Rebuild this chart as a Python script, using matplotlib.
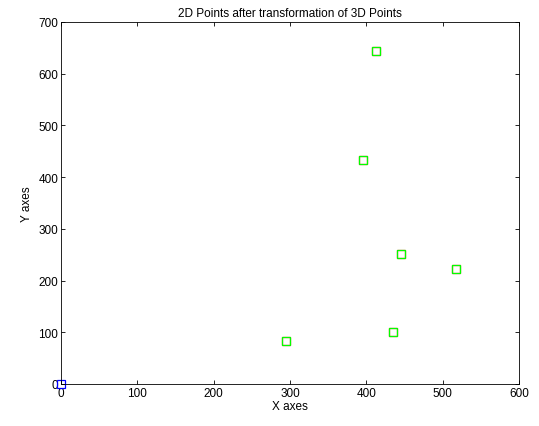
import matplotlib
matplotlib.use("Agg")
import matplotlib.pyplot as plt

# projected points (red), transformed points (green), origin (blue)
red_x = [413, 396, 445, 517, 435, 295]
red_y = [644, 433, 252, 223, 101, 83]
green_x = [413, 396, 445, 517, 435, 295]
green_y = [644, 433, 251, 222, 100, 83]
blue_x = [0]
blue_y = [0]

plt.rcParams.update({
    "font.family": ["Liberation Sans", "DejaVu Sans"],
    "font.size": 8,
    "axes.linewidth": 0.6,
    "xtick.direction": "in", "ytick.direction": "in",
    "xtick.top": True, "ytick.right": True,
    "xtick.major.size": 3, "ytick.major.size": 3,
    "xtick.major.width": 0.6, "ytick.major.width": 0.6,
})

fig = plt.figure(figsize=(5.39, 4.27), dpi=100)
ax = fig.add_axes([0.1132, 0.0984, 0.8497, 0.8478])

ms = 6
ax.plot(red_x, red_y, "s", color="#ff0000", mfc="none", ms=ms, mew=0.9)
ax.plot(green_x, green_y, "s", color="#00ff00", mfc="none", ms=ms, mew=0.9)
ax.plot(blue_x, blue_y, "s", color="#0000ff", mfc="none", ms=ms, mew=0.9,
        clip_on=False)

ax.set_xlim(0, 600)
ax.set_ylim(0, 700)
ax.set_xticks(range(0, 601, 100))
ax.set_yticks(range(0, 701, 100))
ax.tick_params(labelsize=8.5, pad=2)
ax.set_xlabel("X axes", fontsize=8.5, labelpad=1)
ax.set_ylabel("Y axes", fontsize=8.5, labelpad=4)
ax.set_title("2D Points after transformation of 3D Points", fontsize=8.5, pad=4)

fig.savefig("out.png", dpi=100)
